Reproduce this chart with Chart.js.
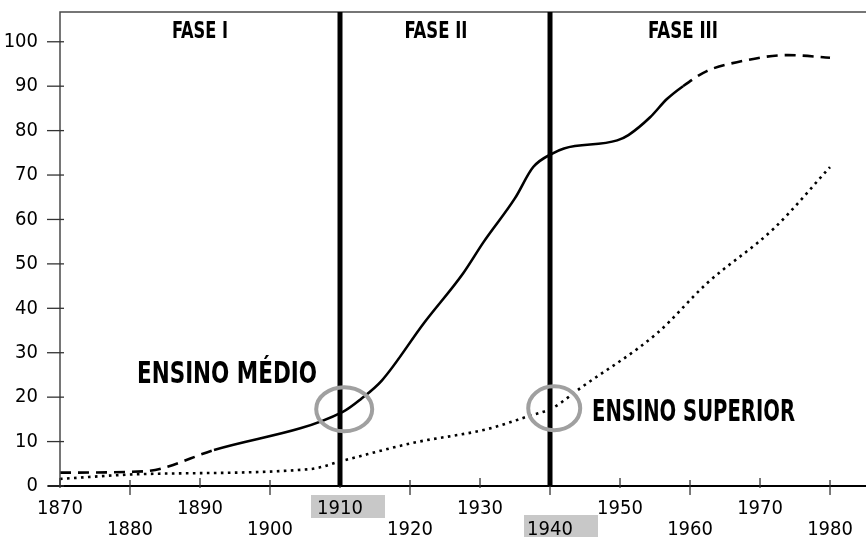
<!DOCTYPE html>
<html>
<head>
<meta charset="utf-8">
<script src="https://cdn.jsdelivr.net/npm/chart.js@4"></script>
<style>
    body { margin: 0; background: #fff; }
    #wrap { width: 866px; height: 537px; position: relative; }
</style>
</head>
<body>
<div id="wrap"><canvas id="chart"></canvas></div>
<script>
(function () {

    // ensino médio (solid, dashed at both ends)
    var medioYears = [1870, 1882, 1892, 1910.4, 1913, 1916, 1922, 1927.6, 1930.5, 1935, 1937.6, 1940.4, 1942, 1949.6, 1951.2, 1954.3, 1956.7, 1959, 1962.4, 1967, 1974, 1980];
    var medioValues = [3.0, 3.3, 8.1, 16.7, 19.6, 23.8, 36.7, 47.9, 54.9, 64.8, 71.8, 74.9, 76.0, 77.8, 79.0, 83.0, 87.1, 90.0, 93.4, 95.5, 97.0, 96.4];

    // ensino superior (dotted)
    var superiorYears = [1870, 1882, 1905.7, 1910.4, 1920.4, 1931, 1936.7, 1940.4, 1944.3, 1955.3, 1962.4, 1972, 1980];
    var superiorValues = [1.6, 2.7, 3.8, 5.7, 9.7, 12.8, 15.6, 17.6, 22.0, 34.4, 45.6, 58.0, 71.8];

    var xTicks = [1870, 1880, 1890, 1900, 1910, 1920, 1930, 1940, 1950, 1960, 1970, 1980];
    var yTicks = [0, 10, 20, 30, 40, 50, 60, 70, 80, 90, 100];

    var phaseYears = [1910, 1940];
    var phaseLabels = ["FASE I", "FASE II", "FASE III"];
    var phaseCenters = [1890, 1923.7, 1959];
    var highlightYears = [1910, 1940];

    var font = "'Liberation Sans Narrow', 'DejaVu Sans Condensed', sans-serif";

    function toPoints(xs, ys) {
        var pts = [];
        for (var i = 0; i < xs.length; i++) {
            pts.push({ x: xs[i], y: ys[i] });
        }
        return pts;
    }

    // draw text squeezed horizontally to a given width (no condensed bold font installed)
    function squeezedText(ctx, text, x, y, width, align) {
        var w = ctx.measureText(text).width;
        var sx = Math.min(1, width / w);
        ctx.save();
        ctx.translate(x, y);
        ctx.scale(sx, 1);
        ctx.textAlign = align;
        ctx.fillText(text, 0, 0);
        ctx.restore();
    }

    var decor = {
        id: 'decor',
        beforeDraw: function (chart) {
            var ctx = chart.ctx;
            var x = chart.scales.x;
            ctx.save();
            ctx.fillStyle = '#c8c8c8';
            // 1910 on the upper row, 1940 on the lower row
            var px = x.getPixelForValue(highlightYears[0]);
            ctx.fillRect(px - 29, 495, 74, 23);
            px = x.getPixelForValue(highlightYears[1]);
            ctx.fillRect(px - 26, 515, 74, 23);
            ctx.restore();
        },
        afterDatasetsDraw: function (chart) {
            var ctx = chart.ctx;
            var area = chart.chartArea;
            var x = chart.scales.x;
            var y = chart.scales.y;
            ctx.save();

            // frame
            ctx.strokeStyle = '#4a4a4a';
            ctx.lineWidth = 1.5;
            ctx.beginPath();
            ctx.moveTo(area.left, area.bottom);
            ctx.lineTo(area.left, area.top);
            ctx.lineTo(area.right, area.top);
            ctx.stroke();

            ctx.strokeStyle = '#000';
            ctx.lineWidth = 2;
            ctx.beginPath();
            ctx.moveTo(area.left - 12, area.bottom);
            ctx.lineTo(area.right, area.bottom);
            ctx.stroke();

            // ticks crossing the axes
            ctx.lineWidth = 1.3;
            ctx.strokeStyle = '#333';
            yTicks.forEach(function (v) {
                var py = y.getPixelForValue(v);
                ctx.beginPath();
                ctx.moveTo(area.left - 13, py);
                ctx.lineTo(area.left + 4, py);
                ctx.stroke();
            });
            xTicks.forEach(function (v, i) {
                var px = x.getPixelForValue(v);
                ctx.beginPath();
                ctx.moveTo(px, area.bottom - (i % 2 ? 6 : 8));
                ctx.lineTo(px, area.bottom + (i % 2 ? 9 : 2));
                ctx.stroke();
            });

            // phase separators
            ctx.strokeStyle = '#000';
            ctx.lineWidth = 5;
            phaseYears.forEach(function (v) {
                var px = x.getPixelForValue(v);
                ctx.beginPath();
                ctx.moveTo(px, area.top);
                ctx.lineTo(px, area.bottom);
                ctx.stroke();
            });

            // highlight circles
            ctx.strokeStyle = '#a0a0a0';
            ctx.lineWidth = 4;
            ctx.beginPath();
            ctx.ellipse(x.getPixelForValue(1910.6), y.getPixelForValue(17.3), 28, 22, 0, 0, Math.PI * 2);
            ctx.stroke();
            ctx.beginPath();
            ctx.ellipse(x.getPixelForValue(1940.6), y.getPixelForValue(17.5), 26, 22, 0, 0, Math.PI * 2);
            ctx.stroke();

            // labels
            ctx.fillStyle = '#000';
            ctx.textBaseline = 'middle';
            ctx.font = 'bold 23px ' + font;
            var phaseWidths = [56, 63, 70];
            phaseLabels.forEach(function (t, i) {
                squeezedText(ctx, t, x.getPixelForValue(phaseCenters[i]), 32, phaseWidths[i], 'center');
            });
            ctx.font = 'bold 30px ' + font;
            squeezedText(ctx, 'ENSINO MÉDIO', 137, 375, 180, 'left');
            squeezedText(ctx, 'ENSINO SUPERIOR', 592, 413, 203, 'left');

            ctx.restore();
        }
    };

    var ctx = document.getElementById('chart').getContext('2d');
    new Chart(ctx, {
        type: 'line',
        data: {
            datasets: [
                {
                    label: 'Ensino médio',
                    data: toPoints(medioYears, medioValues),
                    borderColor: '#000',
                    borderWidth: 2.6,
                    pointRadius: 0,
                    cubicInterpolationMode: 'monotone',
                    segment: {
                        borderDash: function (c) {
                            var x0 = c.p0.parsed.x;
                            return (x0 < 1891 || x0 >= 1958.9) ? [11, 7] : undefined;
                        }
                    }
                },
                {
                    label: 'Ensino superior',
                    data: toPoints(superiorYears, superiorValues),
                    borderColor: '#000',
                    borderWidth: 2.6,
                    borderDash: [2.6, 4.4],
                    pointRadius: 0,
                    cubicInterpolationMode: 'monotone'
                }
            ]
        },
        options: {
            responsive: true,
            maintainAspectRatio: false,
            animation: false,
            layout: { padding: { top: 12, right: 0, left: 0, bottom: 0 } },
            plugins: {
                legend: { display: false },
                tooltip: { enabled: false }
            },
            scales: {
                x: {
                    type: 'linear',
                    min: 1870,
                    max: 1985.14,
                    afterBuildTicks: function (scale) {
                        scale.ticks = xTicks.map(function (v) { return { value: v }; });
                    },
                    afterFit: function (scale) {
                        scale.height = 51;
                        scale.paddingLeft = 0;
                        scale.paddingRight = 0;
                    },
                    border: { display: false },
                    grid: { drawOnChartArea: false, color: 'transparent', tickLength: 9 },
                    ticks: {
                        autoSkip: false,
                        maxRotation: 0,
                        padding: 3,
                        color: '#000',
                        font: { family: font, size: 20, lineHeight: 1.05 },
                        callback: function (value, index) {
                            return index % 2 ? ['', String(value)] : String(value);
                        }
                    }
                },
                y: {
                    min: 0,
                    max: 106.7,
                    afterBuildTicks: function (scale) {
                        scale.ticks = yTicks.map(function (v) { return { value: v }; });
                    },
                    afterFit: function (scale) {
                        scale.width = 60;
                        scale.paddingTop = 0;
                        scale.paddingBottom = 0;
                    },
                    border: { display: false },
                    grid: { drawOnChartArea: false, color: 'transparent', tickLength: 12 },
                    ticks: {
                        padding: 10,
                        color: '#000',
                        font: { family: font, size: 20 }
                    }
                }
            }
        },
        plugins: [decor]
    });

})();
</script>
</body>
</html>
